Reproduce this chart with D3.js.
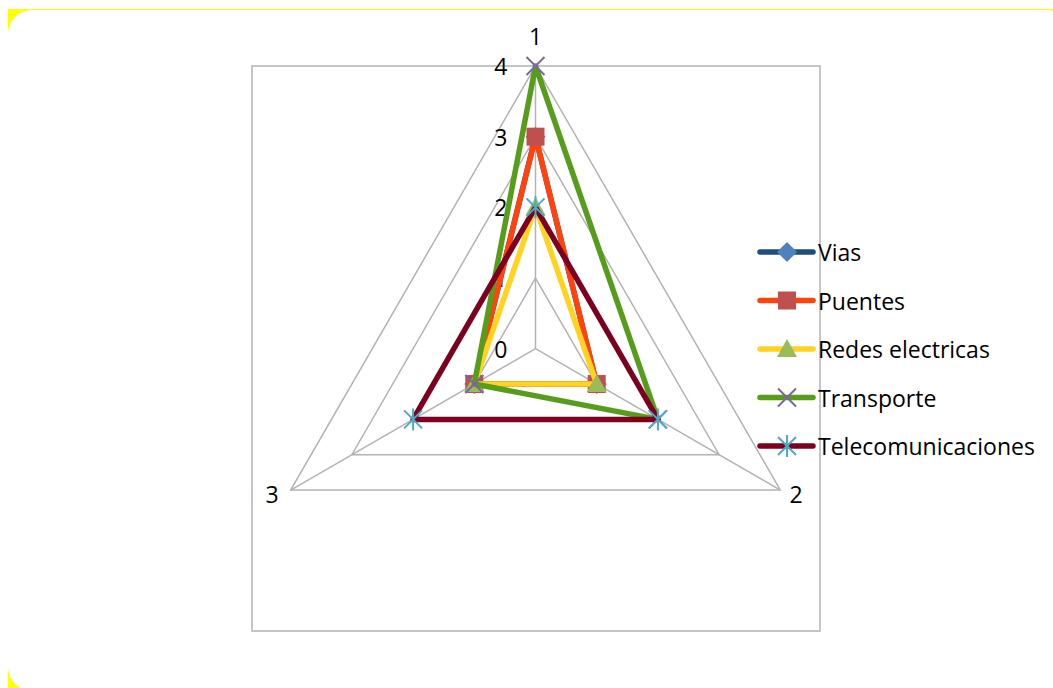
<!DOCTYPE html>
<html>
<head>
<meta charset="utf-8">
<script src="https://cdn.jsdelivr.net/npm/d3@7"></script>
<style>
  html, body { margin: 0; padding: 0; background: #fff; }
  svg { display: block; font-family: "Open Sans", Lato, sans-serif; }
</style>
</head>
<body>
<svg id="chart" width="1053" height="688"></svg>
<script>
// Radar chart data
const axes = ["1", "2", "3"];
const tickValues = [0, 1, 2, 3, 4];
const seriesNames = ["Vias", "Puentes", "Redes electricas", "Transporte", "Telecomunicaciones"];
const vias = [3, 1, 1];
const puentes = [3, 1, 1];
const redes = [2, 1, 1];
const transporte = [4, 2, 1];
const telecom = [2, 2, 2];

const lineColors = ["#1F4E79", "#FF420E", "#FFD320", "#579D1C", "#7E0021"];
const markerColors = ["#4F81BD", "#C0504D", "#9BBB59", "#8064A2", "#4BACC6"];
const markerTypes = ["diamond", "square", "triangle", "x", "star"];

const series = seriesNames.map((name, i) => ({
    name: name,
    values: [vias, puentes, redes, transporte, telecom][i],
    line: lineColors[i],
    marker: markerColors[i],
    type: markerTypes[i]
}));

const svg = d3.select("#chart");

///// BACKGROUND (yellow frame behind rounded white chart area) /////
svg.append("rect")
    .attr("x", 8).attr("y", 9)
    .attr("width", 1045).attr("height", 679)
    .attr("fill", "#FFFF00");
svg.append("rect")
    .attr("x", 8).attr("y", 10)
    .attr("width", 1062).attr("height", 681)
    .attr("rx", 24).attr("ry", 24)
    .attr("fill", "#fff");

///// GEOMETRY /////
const cx = 535.5, cy = 348.7, R = 282.7;
const r = d3.scaleLinear().domain([0, 4]).range([0, R]);
const angle = d3.scaleOrdinal().domain(axes).range([0, 2 * Math.PI / 3, 4 * Math.PI / 3]);

function pt(axis, v) {
    const a = angle(axis);
    return [cx + r(v) * Math.sin(a), cy - r(v) * Math.cos(a)];
}

const grid = svg.append("g");

// plot area box
grid.append("rect")
    .attr("x", 252).attr("y", 66)
    .attr("width", 568).attr("height", 565)
    .attr("fill", "none")
    .attr("stroke", "#B3B3B3")
    .attr("stroke-width", 1.5);

// web triangles
grid.selectAll("path.web")
    .data(tickValues.slice(1))
    .enter().append("path")
    .attr("class", "web")
    .attr("d", v => d3.line()(axes.map(a => pt(a, v))) + "Z")
    .attr("fill", "none")
    .attr("stroke", "#B3B3B3")
    .attr("stroke-width", 1.5);

// spokes
grid.selectAll("line.spoke")
    .data(axes)
    .enter().append("line")
    .attr("class", "spoke")
    .attr("x1", cx).attr("y1", cy)
    .attr("x2", a => pt(a, 4)[0])
    .attr("y2", a => pt(a, 4)[1])
    .attr("stroke", "#B3B3B3")
    .attr("stroke-width", 1.5);

// tick labels along axis 1
grid.selectAll("text.tick")
    .data(tickValues)
    .enter().append("text")
    .attr("class", "tick")
    .attr("x", cx - 28)
    .attr("y", v => pt("1", v)[1] + 9)
    .attr("text-anchor", "end")
    .style("font-size", "23px")
    .text(v => v);

// axis category labels
const labelPos = { "1": [535.5, 45], "2": [796, 503], "3": [272, 503] };
grid.selectAll("text.cat")
    .data(axes)
    .enter().append("text")
    .attr("class", "cat")
    .attr("x", a => labelPos[a][0])
    .attr("y", a => labelPos[a][1])
    .attr("text-anchor", "middle")
    .style("font-size", "23px")
    .text(a => a);

///// MARKERS /////
function drawMarker(g, type, color, x, y) {
    if (type === "diamond") {
        g.append("path").attr("d", `M${x},${y - 10}L${x + 10},${y}L${x},${y + 10}L${x - 10},${y}Z`).attr("fill", color);
    } else if (type === "square") {
        g.append("rect").attr("x", x - 9).attr("y", y - 9).attr("width", 18).attr("height", 18).attr("fill", color);
    } else if (type === "triangle") {
        g.append("path").attr("d", `M${x},${y - 10}L${x + 10},${y + 8}L${x - 10},${y + 8}Z`).attr("fill", color);
    } else if (type === "x") {
        g.append("path").attr("d", `M${x - 9},${y - 9}L${x + 9},${y + 9}M${x - 9},${y + 9}L${x + 9},${y - 9}`)
            .attr("stroke", color).attr("stroke-width", 2).attr("fill", "none");
    } else if (type === "star") {
        g.append("path").attr("d", `M${x - 9},${y - 9}L${x + 9},${y + 9}M${x - 9},${y + 9}L${x + 9},${y - 9}M${x},${y - 11}L${x},${y + 11}`)
            .attr("stroke", color).attr("stroke-width", 2).attr("fill", "none");
    }
}

///// SERIES /////
const plot = svg.append("g");
series.forEach(s => {
    const g = plot.append("g");
    g.append("path")
        .attr("d", d3.line()(axes.map((a, i) => pt(a, s.values[i]))) + "Z")
        .attr("fill", "none")
        .attr("stroke", s.line)
        .attr("stroke-width", 5.5)
        .attr("stroke-linejoin", "round");
    axes.forEach((a, i) => {
        const p = pt(a, s.values[i]);
        drawMarker(g, s.type, s.marker, p[0], p[1]);
    });
});

///// LEGEND /////
const legend = svg.append("g");
const legendY = d3.scalePoint().domain(seriesNames).range([252, 446]);
series.forEach(s => {
    const y = legendY(s.name);
    legend.append("line")
        .attr("x1", 760).attr("x2", 813)
        .attr("y1", y).attr("y2", y)
        .attr("stroke", s.line)
        .attr("stroke-width", 5.5)
        .attr("stroke-linecap", "round");
    drawMarker(legend, s.type, s.marker, 787, y);
    legend.append("text")
        .attr("x", 818)
        .attr("y", y + 9)
        .style("font-size", "23px")
        .text(s.name);
});
</script>
</body>
</html>
